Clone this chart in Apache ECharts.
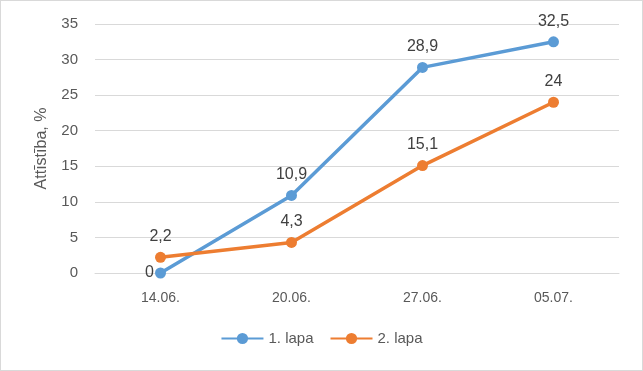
<!DOCTYPE html>
<html><head><meta charset="utf-8">
<script src="https://cdn.jsdelivr.net/npm/echarts@6/dist/echarts.min.js"></script>
<style>html,body{margin:0;padding:0;background:#fff}#c{width:643px;height:371px;box-sizing:border-box;border:1px solid #d9d9d9}</style>
</head><body><div id="c"></div>
<script>
const categories = ['14.06.', '20.06.', '27.06.', '05.07.'];
const series1 = [0, 10.9, 28.9, 32.5];
const series2 = [2.2, 4.3, 15.1, 24];
const seriesNames = ['1. lapa', '2. lapa'];
const yTicks = [0, 35, 5];

const chart = echarts.init(document.getElementById('c'), null, {renderer: 'canvas'});
const font = 'Liberation Sans';
const fmt = p => String(p.value).replace('.', ',');
chart.setOption({
  animation: false,
  textStyle: {fontFamily: font},
  grid: {left: 94, right: 23, top: 23, bottom: 97},
  legend: {
    bottom: 19, left: 'center', itemWidth: 42, itemHeight: 14, itemGap: 16,
    textStyle: {fontSize: 15, color: '#595959', fontFamily: font},
    data: seriesNames
  },
  xAxis: {
    type: 'category', data: categories, boundaryGap: true,
    axisLine: {lineStyle: {color: '#d9d9d9'}}, axisTick: {show: false},
    axisLabel: {color: '#595959', fontSize: 14, margin: 18}
  },
  yAxis: {
    type: 'value', min: yTicks[0], max: yTicks[1], interval: yTicks[2],
    name: 'Attīstība, %', nameLocation: 'middle', nameGap: 45, nameRotate: 90,
    nameTextStyle: {color: '#595959', fontSize: 16},
    axisLine: {show: false}, axisTick: {show: false},
    axisLabel: {color: '#595959', fontSize: 15, margin: 17},
    splitLine: {lineStyle: {color: '#d9d9d9'}}
  },
  series: [
    {name: seriesNames[0], type: 'line', data: series1.map((v, i) => i === 0 ? {value: v, label: {position: 'left', distance: 1}} : v),
     symbol: 'circle', symbolSize: 11,
     lineStyle: {color: '#5b9bd5', width: 3.5}, itemStyle: {color: '#5b9bd5'},
     label: {show: true, position: 'top', distance: 7, color: '#404040', fontSize: 16, formatter: fmt}},
    {name: seriesNames[1], type: 'line', data: series2, symbol: 'circle', symbolSize: 11,
     lineStyle: {color: '#ed7d31', width: 3.5}, itemStyle: {color: '#ed7d31'},
     label: {show: true, position: 'top', distance: 7, color: '#404040', fontSize: 16, formatter: fmt}}
  ]
});
</script></body></html>
